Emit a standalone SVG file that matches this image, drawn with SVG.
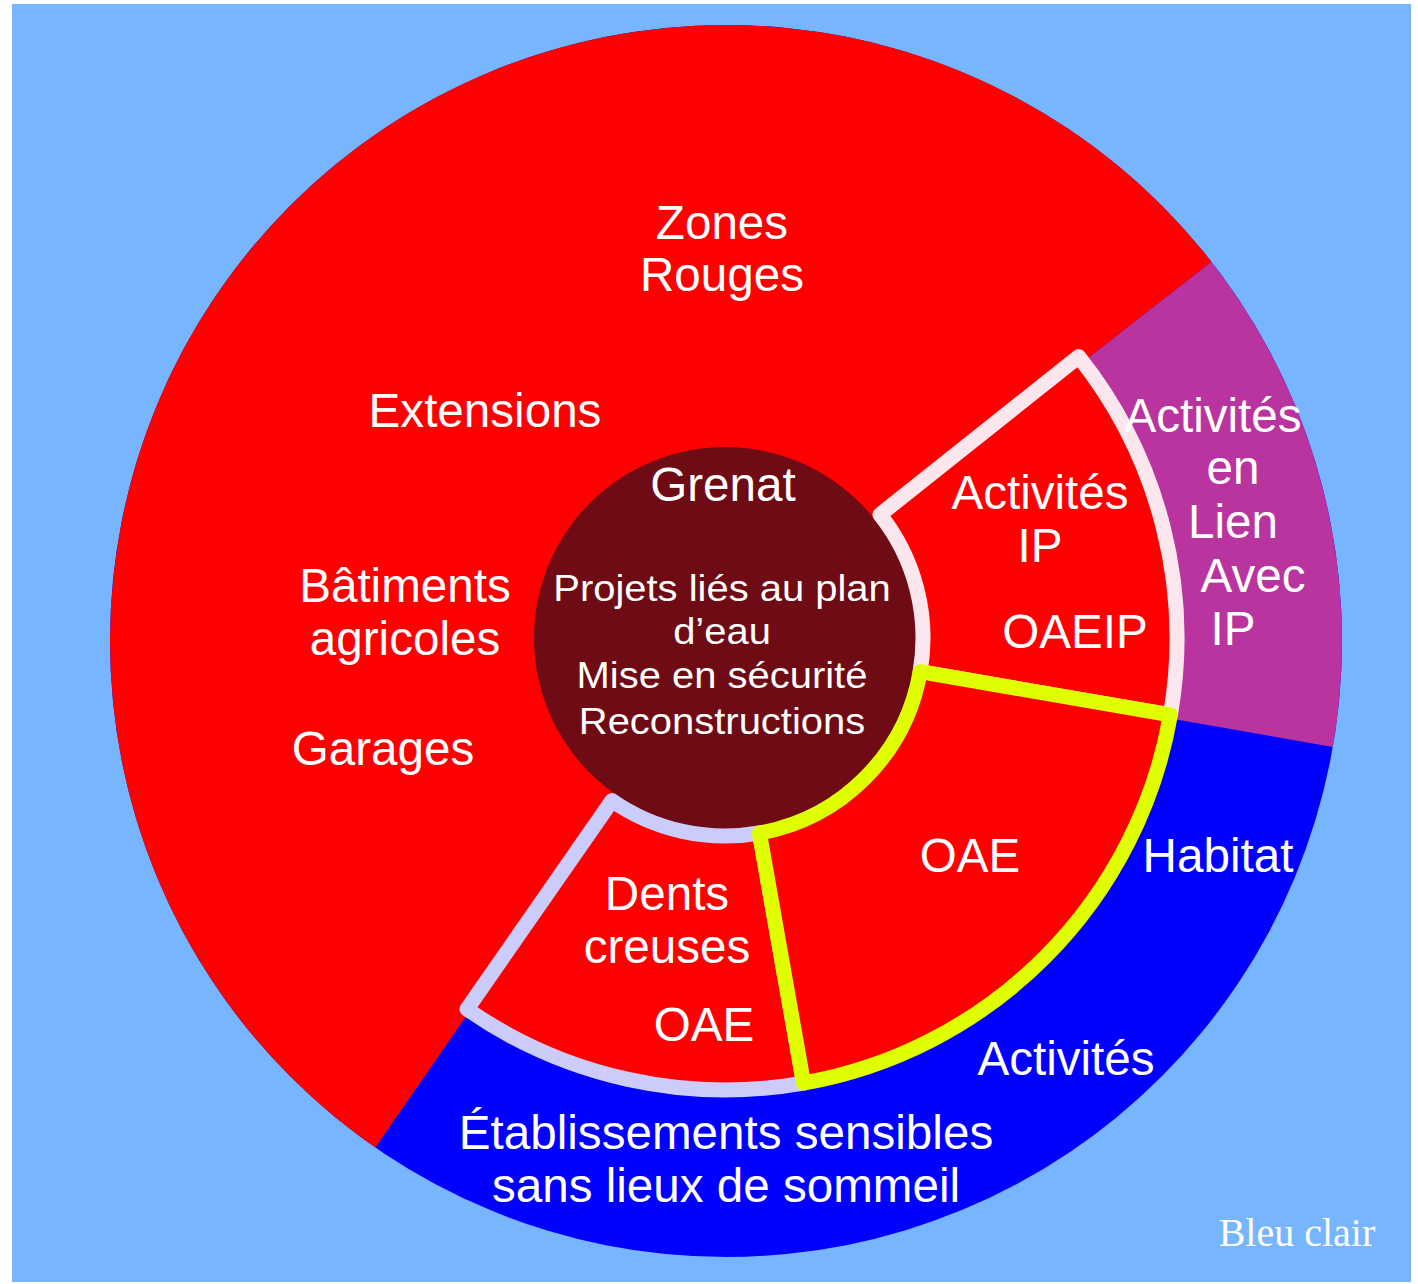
<svg xmlns="http://www.w3.org/2000/svg" width="1418" height="1284" viewBox="0 0 1418 1284">
  <style>
    .lbl { font-family: "Liberation Sans", Arial, sans-serif; font-size: 47.6px; fill: #ffffff; text-anchor: middle; }
    .ctr { font-family: "Liberation Sans", Arial, sans-serif; font-size: 37px; fill: #ffffff; text-anchor: middle; }
    .serif { font-family: "Liberation Serif", "Times New Roman", serif; font-size: 40px; fill: #ffffff; text-anchor: middle; }
    .inner { stroke-width: 15; stroke-linejoin: round; fill: #ff0000; }
  </style>
  <rect x="12" y="4" width="1399" height="1278" fill="#77b5fe"/>

  <g id="outer-ring">
    <g id="zone-bleue">
      <circle cx="726" cy="641" r="616" fill="#0000ff"/>
    </g>
    <g id="zone-rouge">
      <path d="M726 641 L375.3 1147.4 A616 616 0 1 1 1211.4 261.7 Z" fill="#ff0000"/>
    </g>
    <g id="zone-violette">
      <path d="M726 641 L1211.4 261.7 A616 616 0 0 1 1332.8 746.9 Z" fill="#ba34a0"/>
    </g>
  </g>

  <g id="grenat">
    <circle cx="725" cy="638" r="191" fill="#6e0b14"/>
  </g>

  <g id="inner-ring">
    <g id="activites-ip">
      <path class="inner" stroke="#fce6ee" d="M880 514.7 L1078.7 356.6 A452 452 0 0 1 1170.4 714.9 L920.1 671.7 A198 198 0 0 0 880 514.7 Z"/>
    </g>
    <g id="dents-creuses">
      <path class="inner" stroke="#ccccfa" d="M759.4 833 L803.5 1083.1 A452 452 0 0 1 467 1009.1 L612 800.6 A198 198 0 0 0 759.4 833 Z"/>
    </g>
    <g id="oae">
      <path class="inner" stroke="#dfff00" d="M920.1 671.7 L1170.4 714.9 A452 452 0 0 1 803.5 1083.1 L759.4 833 A198 198 0 0 0 920.1 671.7 Z"/>
    </g>
  </g>

  <g id="labels">
    <text class="lbl" x="722" y="239">Zones</text>
    <text class="lbl" x="722" y="291">Rouges</text>
    <text class="lbl" x="485" y="427">Extensions</text>
    <text class="lbl" x="405" y="602">Bâtiments</text>
    <text class="lbl" x="405" y="655">agricoles</text>
    <text class="lbl" x="383" y="765">Garages</text>

    <text class="lbl" x="723" y="501">Grenat</text>
    <g transform="translate(722 0) scale(1.08 1)">
      <text class="ctr" x="0" y="601">Projets liés au plan</text>
      <text class="ctr" x="0" y="644">d’eau</text>
      <text class="ctr" x="0" y="688">Mise en sécurité</text>
      <text class="ctr" x="0" y="734">Reconstructions</text>
    </g>

    <text class="lbl" x="1040" y="509">Activités</text>
    <text class="lbl" x="1040" y="562">IP</text>
    <text class="lbl" x="1075" y="648">OAEIP</text>

    <text class="lbl" x="1213" y="432">Activités</text>
    <text class="lbl" x="1233" y="484">en</text>
    <text class="lbl" x="1233" y="538">Lien</text>
    <text class="lbl" x="1253" y="592">Avec</text>
    <text class="lbl" x="1233" y="645">IP</text>

    <text class="lbl" x="970" y="872">OAE</text>
    <text class="lbl" x="1218" y="872">Habitat</text>

    <text class="lbl" x="667" y="910">Dents</text>
    <text class="lbl" x="667" y="963">creuses</text>
    <text class="lbl" x="704" y="1041">OAE</text>

    <text class="lbl" x="1066" y="1075">Activités</text>
    <text class="lbl" x="726" y="1149">Établissements sensibles</text>
    <text class="lbl" x="726" y="1202">sans lieux de sommeil</text>

    <text class="serif" x="1297" y="1246">Bleu clair</text>
  </g>
</svg>
